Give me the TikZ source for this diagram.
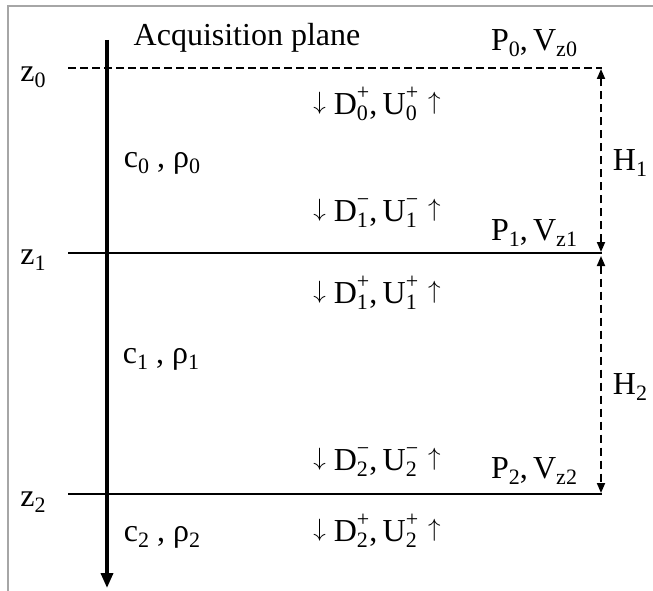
\documentclass[tikz,border=0pt]{standalone}
\usepackage{graphicx}
\usepackage{fontspec}
\setmainfont{Liberation Serif}
\usetikzlibrary{arrows.meta}
\newcommand{\ssz}{\fontsize{22}{22}\selectfont}
\newcommand{\lsub}[1]{\raisebox{-0.2em}{\ssz #1}}
\newcommand{\lsubsup}[2]{\setbox0\hbox{\raisebox{0.46em}{\ssz #1}}\setbox2\hbox{\raisebox{-0.2em}{\ssz #2}}\ifdim\wd0>\wd2 \wd2=\wd0\fi\rlap{\box0}\box2}
\newcommand{\dn}{\raisebox{4.6pt}{\scalebox{2.5}{\fontsize{10}{10}\selectfont$\downarrow$}}}
\newcommand{\up}{\raisebox{4.6pt}{\scalebox{2.5}{\fontsize{10}{10}\selectfont$\uparrow$}}}
\begin{document}
\begin{tikzpicture}[x=1pt,y=-1pt,
  lbl/.style={inner sep=0pt,font=\fontsize{32}{36}\selectfont},
  layer/.style={line width=2.4pt},
  dimline/.style={line width=1.8pt,dash pattern=on 8pt off 5pt,{Triangle[width=8pt,length=10pt]}-{Triangle[width=8pt,length=10pt]}}]
\useasboundingbox (0,0) rectangle (653,591);
% frame
\draw[gray!70,line width=1.2pt] (8,591) -- (8,6) -- (653,6);
% coordinates
\coordinate (l0) at (68,68);   \coordinate (r0) at (602,68);
\coordinate (l1) at (68,253);  \coordinate (r1) at (602,253);
\coordinate (l2) at (68,494);  \coordinate (r2) at (602,494);
\coordinate (atop) at (107,40); \coordinate (abot) at (107,588);
% interfaces
\draw[layer,dash pattern=on 8pt off 4pt] (l0) -- (r0);
\draw[layer] (l1) -- (r1);
\draw[layer] (l2) -- (r2);
% depth axis
\draw[line width=3.5pt,-{Triangle[width=12pt,length=15pt]}] (atop) -- (abot);
% thickness markers
\coordinate (h1a) at (601,69);  \coordinate (h1b) at (601,252);
\coordinate (h2a) at (601,256); \coordinate (h2b) at (601,493);
\draw[dimline] (h1b) -- (h1a);
\draw[dimline] (h2a) -- (h2b);
% labels
\node[lbl] (acq) at (247,38) {Acquisition plane};
\node[lbl] (z0) at (33,77) {z\lsub{0}};
\node[lbl] (z1) at (33,260) {z\lsub{1}};
\node[lbl] (z2) at (33,502) {z\lsub{2}};
\node[lbl] (m0) at (162,163) {c\lsub{0} , ρ\lsub{0}};
\node[lbl] (m1) at (161,359) {c\lsub{1} , ρ\lsub{1}};
\node[lbl] (m2) at (162,537) {c\lsub{2} , ρ\lsub{2}};
\node[lbl] (p0) at (534,43) {P\lsub{0},\,V\lsub{z0}};
\node[lbl] (p1) at (534,233) {P\lsub{1},\,V\lsub{z1}};
\node[lbl] (p2) at (534,471) {P\lsub{2},\,V\lsub{z2}};
\node[lbl] (w0p) at (377,104) {\dn\hspace{8pt}D\lsubsup{+}{0},\,U\lsubsup{+}{0}\hspace{10pt}\up};
\node[lbl] (w1m) at (377,213) {\dn\hspace{8pt}D\lsubsup{−}{1},\,U\lsubsup{−}{1}\hspace{10pt}\up};
\node[lbl] (w1p) at (377,293) {\dn\hspace{8pt}D\lsubsup{+}{1},\,U\lsubsup{+}{1}\hspace{10pt}\up};
\node[lbl] (w2m) at (377,462) {\dn\hspace{8pt}D\lsubsup{−}{2},\,U\lsubsup{−}{2}\hspace{10pt}\up};
\node[lbl] (w2p) at (377,531) {\dn\hspace{8pt}D\lsubsup{+}{2},\,U\lsubsup{+}{2}\hspace{10pt}\up};
\node[lbl] (H1) at (630,163) {H\lsub{1}};
\node[lbl] (H2) at (630,387) {H\lsub{2}};
\end{tikzpicture}
\end{document}
